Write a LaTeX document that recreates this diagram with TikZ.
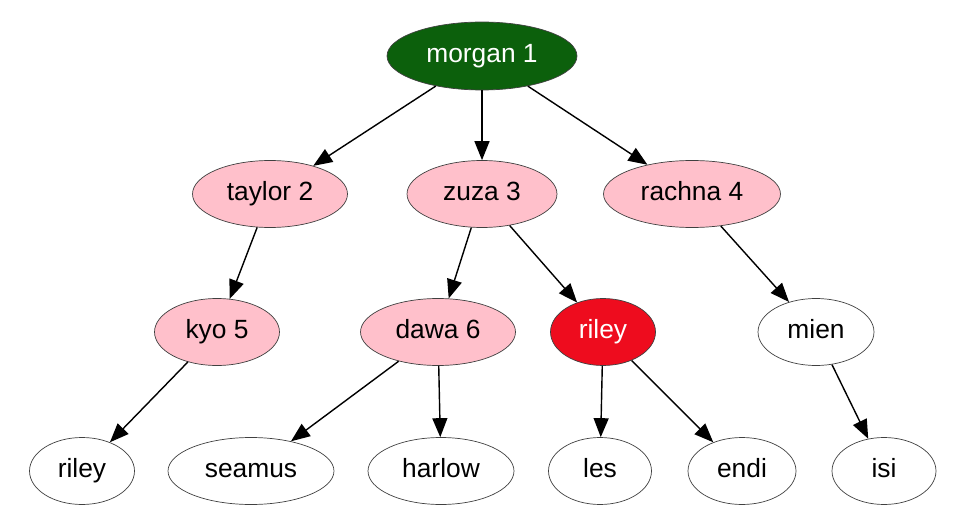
\documentclass[tikz,border=0pt]{standalone}
\usepackage{fontspec}
\setmainfont{Liberation Sans}
\definecolor{rootgreen}{RGB}{12, 96, 12}
\definecolor{hotred}{RGB}{238, 12, 30}
\definecolor{softpink}{RGB}{255, 192, 203}
\usetikzlibrary{arrows.meta, shapes.geometric}

\begin{document}
\begin{tikzpicture}[x=0.02cm, y=-0.02cm,
    every node/.style={font=\fontsize{15}{18}\selectfont},
    person/.style={ellipse, draw=black!75, line width=0.4pt, inner sep=2pt, text height=10.8pt, text depth=3.2pt, minimum height=1.34cm},
    ranked/.style={person, fill=softpink},
    link/.style={-{Triangle[length=0.38cm, width=0.3cm]}, line width=0.8pt}]
        \useasboundingbox (0,0) rectangle (960,530);
        % top
        \node[person, fill=rootgreen, text=white, minimum width=3.8cm, minimum height=1.36cm] (morgan) at (482,56) {morgan 1};
        % second row
        \node[ranked, minimum width=3.1cm] (taylor) at (270,194) {taylor 2};
        \node[ranked, minimum width=3.0cm] (zuza) at (482,194) {zuza 3};
        \node[ranked, minimum width=3.54cm] (rachna) at (692,194) {rachna 4};
        % third row
        \node[ranked, minimum width=2.5cm] (kyo) at (217,332) {kyo 5};
        \node[ranked, minimum width=3.1cm] (dawa) at (438,332) {dawa 6};
        \node[person, fill=hotred, text=white, minimum width=2.1cm] (rileyR) at (603,332) {riley};
        \node[person, minimum width=2.32cm] (mien) at (816,332) {mien};
        % bottom
        \node[person, minimum width=2.1cm] (rileyB) at (82,471) {riley};
        \node[person, minimum width=3.32cm] (seamus) at (251,471) {seamus};
        \node[person, minimum width=2.92cm] (harlow) at (441,471) {harlow};
        \node[person, minimum width=2.06cm] (les) at (600,471) {les};
        \node[person, minimum width=2.16cm] (endi) at (742,471) {endi};
        \node[person, minimum width=2.08cm] (isi) at (884,471) {isi};
        % edges
        \draw[link] (morgan) -- (taylor);
        \draw[link] (morgan) -- (zuza);
        \draw[link] (morgan) -- (rachna);
        \draw[link] (taylor) -- (kyo);
        \draw[link] (zuza) -- (dawa);
        \draw[link] (zuza) -- (rileyR);
        \draw[link] (rachna) -- (mien);
        \draw[link] (kyo) -- (rileyB);
        \draw[link] (dawa) -- (seamus);
        \draw[link] (dawa) -- (harlow);
        \draw[link] (rileyR) -- (les);
        \draw[link] (rileyR) -- (endi);
        \draw[link] (mien) -- (isi);
\end{tikzpicture}
\end{document}
